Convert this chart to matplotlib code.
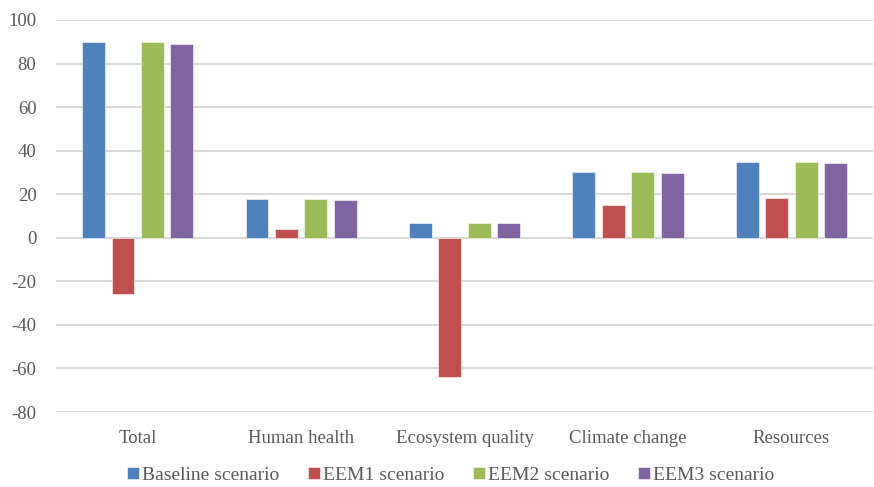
import matplotlib.pyplot as plt
import numpy as np

plt.rcParams['font.family'] = ['Liberation Serif', 'DejaVu Serif']
plt.rcParams['axes.unicode_minus'] = False

categories = ['Total', 'Human health', 'Ecosystem quality', 'Climate change', 'Resources']
series_names = ['Baseline scenario', 'EEM1 scenario', 'EEM2 scenario', 'EEM3 scenario']
baseline = [90, 17.8, 7, 30.3, 34.9]
eem1 = [-25.8, 4.1, -63.8, 15.2, 18.4]
eem2 = [90, 17.8, 7, 30.3, 34.9]
eem3 = [88.8, 17.5, 6.8, 29.8, 34.2]
colors = ['#4f81bd', '#c0504d', '#9bbb59', '#8064a2']

fig = plt.figure(figsize=(8.74, 4.87), dpi=100)
ax = fig.add_axes([0.064, 0.154, 0.935, 0.805])

x = np.arange(len(categories))
width = 0.14
pitch = 0.18
for i, (vals, name) in enumerate(zip([baseline, eem1, eem2, eem3], series_names)):
    ax.bar(x + (i - 1.5) * pitch, vals, width, color=colors[i], label=name,
           edgecolor='white', linewidth=0.4, zorder=3)

ax.set_xlim(-0.5, len(categories) - 0.5)
ax.set_ylim(-80, 100)
ax.set_yticks(range(-80, 101, 20))
ax.set_xticks(x)
ax.set_xticklabels(categories)
ax.grid(axis='y', color='#d9d9d9', linewidth=1.5, zorder=0)
for s in ax.spines.values():
    s.set_visible(False)
ax.tick_params(length=0, labelsize=13.5, colors='#595959')
ax.tick_params(axis='x', pad=13)
ax.tick_params(axis='y', pad=14)

ax.legend(loc='center', bbox_to_anchor=(0.483, -0.162), ncol=4, frameon=False,
          fontsize=14, handlelength=0.6, handleheight=0.6, handletextpad=0.15,
          columnspacing=1.5, labelcolor='#595959', borderpad=0.2)

fig.savefig('out.png', dpi=100)
